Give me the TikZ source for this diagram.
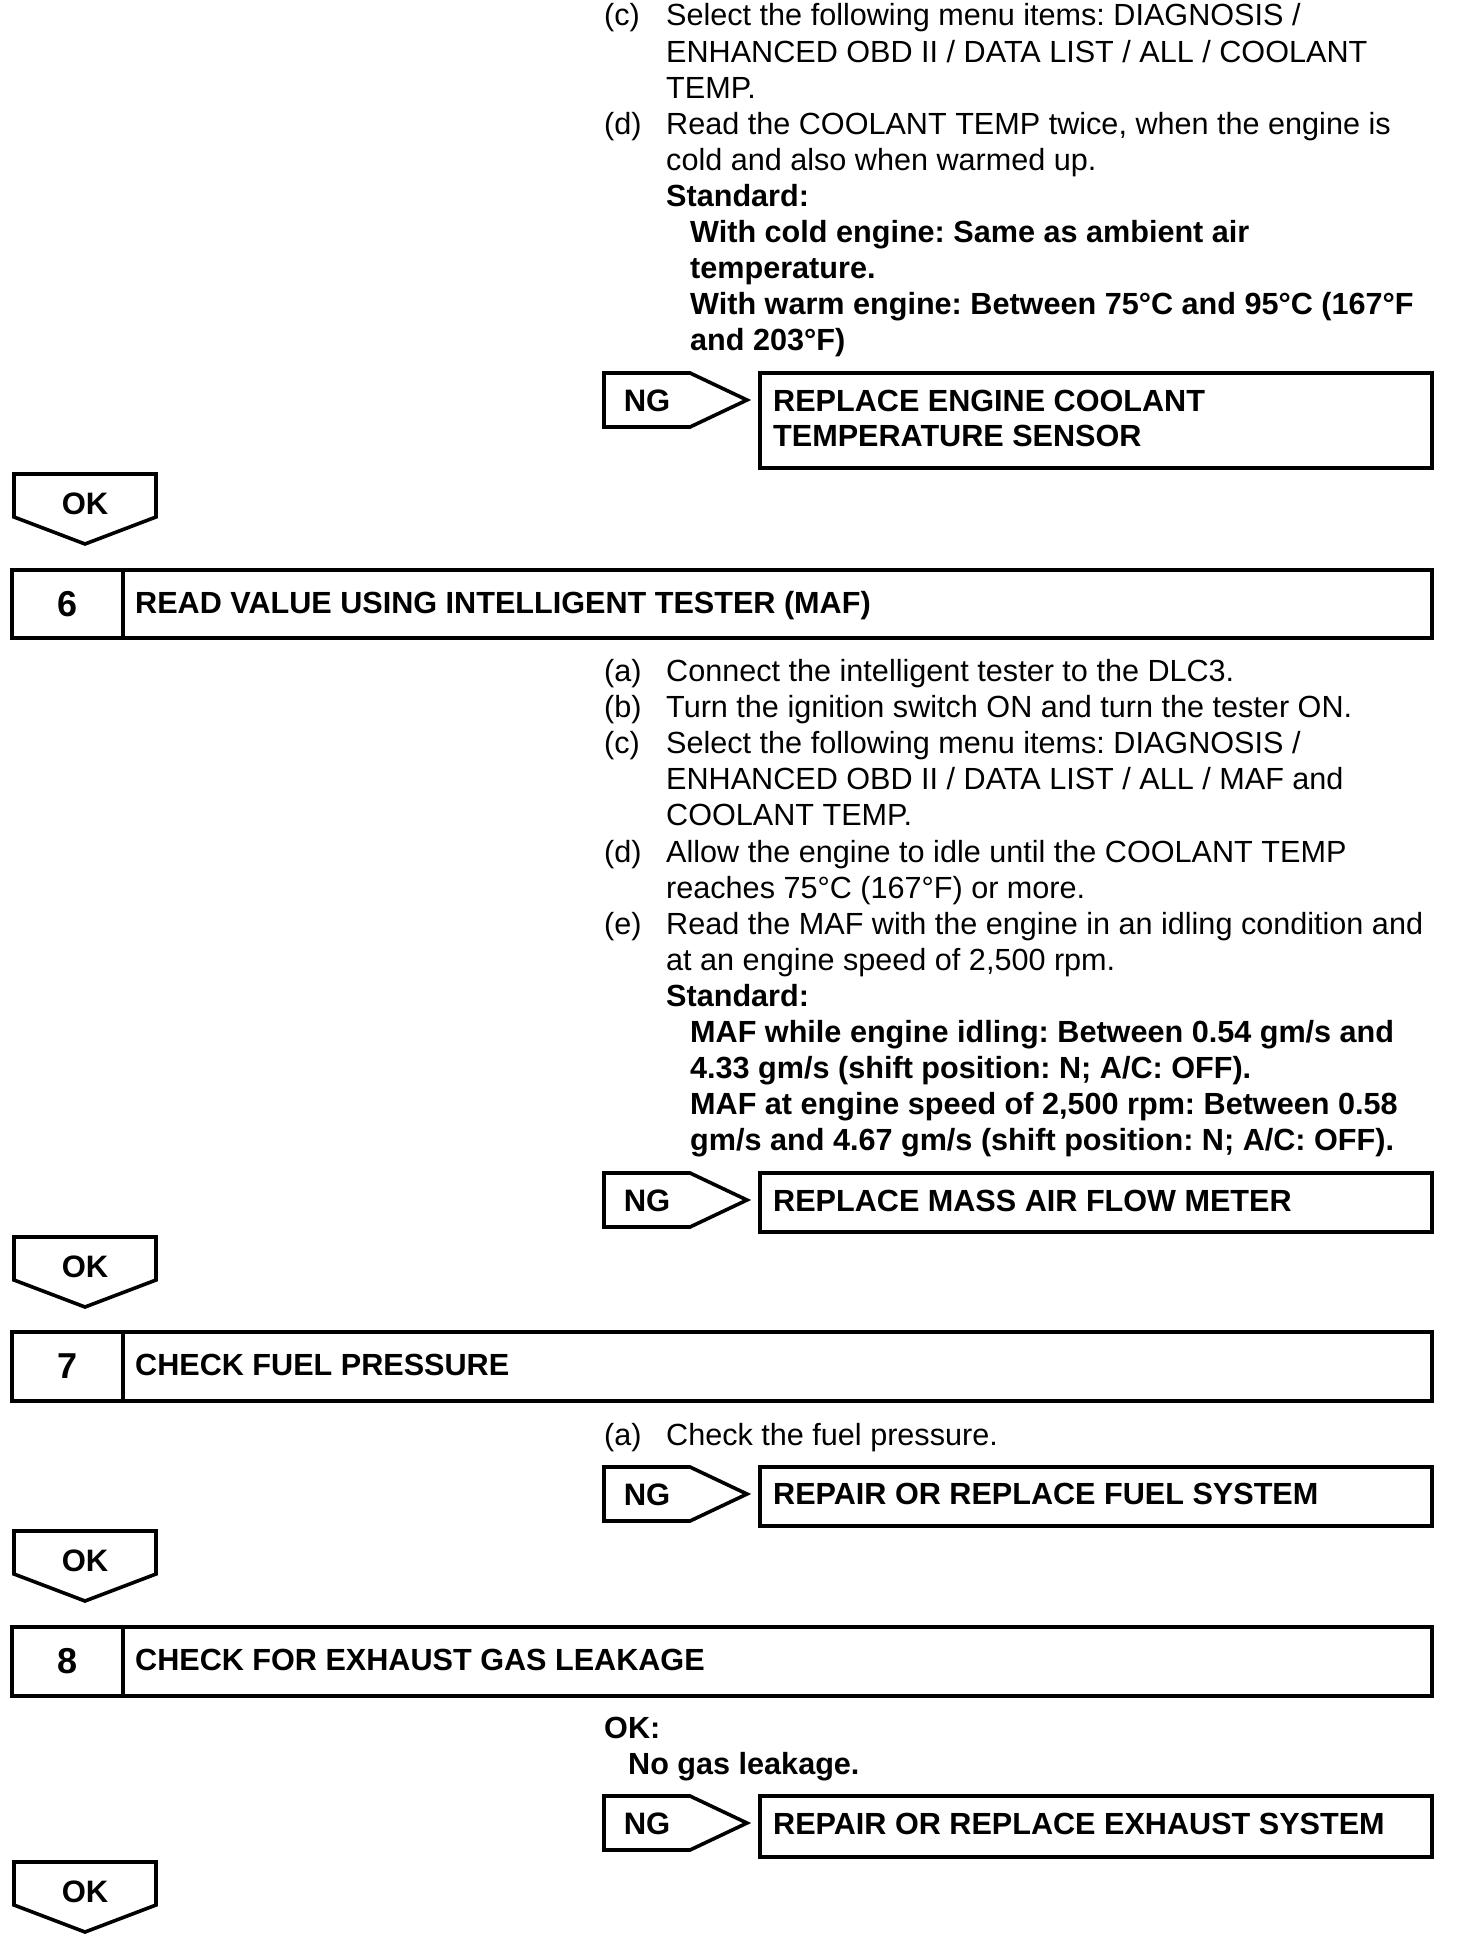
\documentclass[tikz,border=0pt]{standalone}
\usepackage{fontspec}
\setmainfont{Liberation Sans}
\frenchspacing
\tikzset{
  txt/.style={anchor=base west,inner sep=0pt,font=\fontsize{30.6}{36}\selectfont},
  btxt/.style={txt,font=\fontsize{30.6}{36}\selectfont\bfseries},
  ctxt/.style={anchor=base,inner sep=0pt,font=\fontsize{31}{36}\selectfont\bfseries},
  numtxt/.style={anchor=base,inner sep=0pt,font=\fontsize{36}{40}\selectfont\bfseries},
  frame/.style={draw=black,line width=3.6pt,line join=miter},
}
\newcommand{\ngshape}[2]{%
  \draw[frame] (604,#2) -- (690,#2) -- (747,#2+27) -- (690,#2+54) -- (604,#2+54) -- cycle;
  \node[ctxt] (#1) at (647,#2+38) {NG};}
\newcommand{\okshape}[2]{%
  \draw[frame] (14,#2) -- (156,#2) -- (156,#2+43) -- (85,#2+70) -- (14,#2+43) -- cycle;
  \node[ctxt] (#1) at (85,#2+40) {OK};}
\begin{document}
\begin{tikzpicture}[x=1pt,y=-1pt]
\useasboundingbox[fill=white] (0,0) rectangle (1456,1940);

% ---- top section (step 5 continued)
\node[txt] (l5c) at (604,26) {(c)};
\node[txt] (t5c1) at (666,26) {Select the following menu items: DIAGNOSIS /};
\node[txt] (t5c2) at (666,62.1) {ENHANCED OBD II / DATA LIST / ALL / COOLANT};
\node[txt] (t5c3) at (666,98.2) {TEMP.};
\node[txt] (l5d) at (604,134.3) {(d)};
\node[txt] (t5d1) at (666,134.3) {Read the COOLANT TEMP twice, when the engine is};
\node[txt] (t5d2) at (666,170.4) {cold and also when warmed up.};
\node[btxt] (s5) at (666,206.5) {Standard:};
\node[btxt] (s5a) at (690,242.6) {With cold engine: Same as ambient air};
\node[btxt] (s5b) at (690,278.7) {temperature.};
\node[btxt] (s5c) at (690,314.8) {With warm engine: Between 75°C and 95°C (167°F};
\node[btxt] (s5d) at (690,350.9) {and 203°F)};

\ngshape{ng1}{373}
\draw[frame] (760,373) rectangle (1432,468);
\node[btxt] (r1a) at (773,411) {REPLACE ENGINE COOLANT};
\node[btxt] (r1b) at (773,446) {TEMPERATURE SENSOR};

\okshape{ok1}{474}

% ---- step 6
\draw[frame] (12,570) rectangle (1432,638);
\draw[frame] (123,570) -- (123,638);
\node[numtxt] (n6) at (68,616) {6};
\node[btxt] (h6) at (135,613) {READ VALUE USING INTELLIGENT TESTER (MAF)};

\node[txt] (l6a) at (604,681.5) {(a)};
\node[txt] (t6a) at (666,681.5) {Connect the intelligent tester to the DLC3.};
\node[txt] (l6b) at (604,717.6) {(b)};
\node[txt] (t6b) at (666,717.6) {Turn the ignition switch ON and turn the tester ON.};
\node[txt] (l6c) at (604,753.7) {(c)};
\node[txt] (t6c1) at (666,753.7) {Select the following menu items: DIAGNOSIS /};
\node[txt] (t6c2) at (666,789.8) {ENHANCED OBD II / DATA LIST / ALL / MAF and};
\node[txt] (t6c3) at (666,825.9) {COOLANT TEMP.};
\node[txt] (l6d) at (604,862) {(d)};
\node[txt] (t6d1) at (666,862) {Allow the engine to idle until the COOLANT TEMP};
\node[txt] (t6d2) at (666,898.1) {reaches 75°C (167°F) or more.};
\node[txt] (l6e) at (604,934.2) {(e)};
\node[txt] (t6e1) at (666,934.2) {Read the MAF with the engine in an idling condition and};
\node[txt] (t6e2) at (666,970.3) {at an engine speed of 2,500 rpm.};
\node[btxt] (s6) at (666,1006.4) {Standard:};
\node[btxt] (s6a) at (690,1042.5) {MAF while engine idling: Between 0.54 gm/s and};
\node[btxt] (s6b) at (690,1078.6) {4.33 gm/s (shift position: N; A/C: OFF).};
\node[btxt] (s6c) at (690,1114.7) {MAF at engine speed of 2,500 rpm: Between 0.58};
\node[btxt] (s6d) at (690,1150.8) {gm/s and 4.67 gm/s (shift position: N; A/C: OFF).};

\ngshape{ng2}{1173}
\draw[frame] (760,1173) rectangle (1432,1232);
\node[btxt] (r2) at (773,1211) {REPLACE MASS AIR FLOW METER};

\okshape{ok2}{1237}

% ---- step 7
\draw[frame] (12,1332) rectangle (1432,1401);
\draw[frame] (123,1332) -- (123,1401);
\node[numtxt] (n7) at (68,1378) {7};
\node[btxt] (h7) at (135,1375) {CHECK FUEL PRESSURE};

\node[txt] (l7a) at (604,1445) {(a)};
\node[txt] (t7a) at (666,1445) {Check the fuel pressure.};

\ngshape{ng3}{1467}
\draw[frame] (760,1467) rectangle (1432,1526);
\node[btxt] (r3) at (773,1504) {REPAIR OR REPLACE FUEL SYSTEM};

\okshape{ok3}{1531}

% ---- step 8
\draw[frame] (12,1627) rectangle (1432,1696);
\draw[frame] (123,1627) -- (123,1696);
\node[numtxt] (n8) at (68,1673) {8};
\node[btxt] (h8) at (135,1670) {CHECK FOR EXHAUST GAS LEAKAGE};

\node[btxt] (o8) at (604,1738) {OK:};
\node[btxt] (o8a) at (628,1774) {No gas leakage.};

\ngshape{ng4}{1796}
\draw[frame] (760,1796) rectangle (1432,1857);
\node[btxt] (r4) at (773,1834) {REPAIR OR REPLACE EXHAUST SYSTEM};

\okshape{ok4}{1862}
\end{tikzpicture}
\end{document}
